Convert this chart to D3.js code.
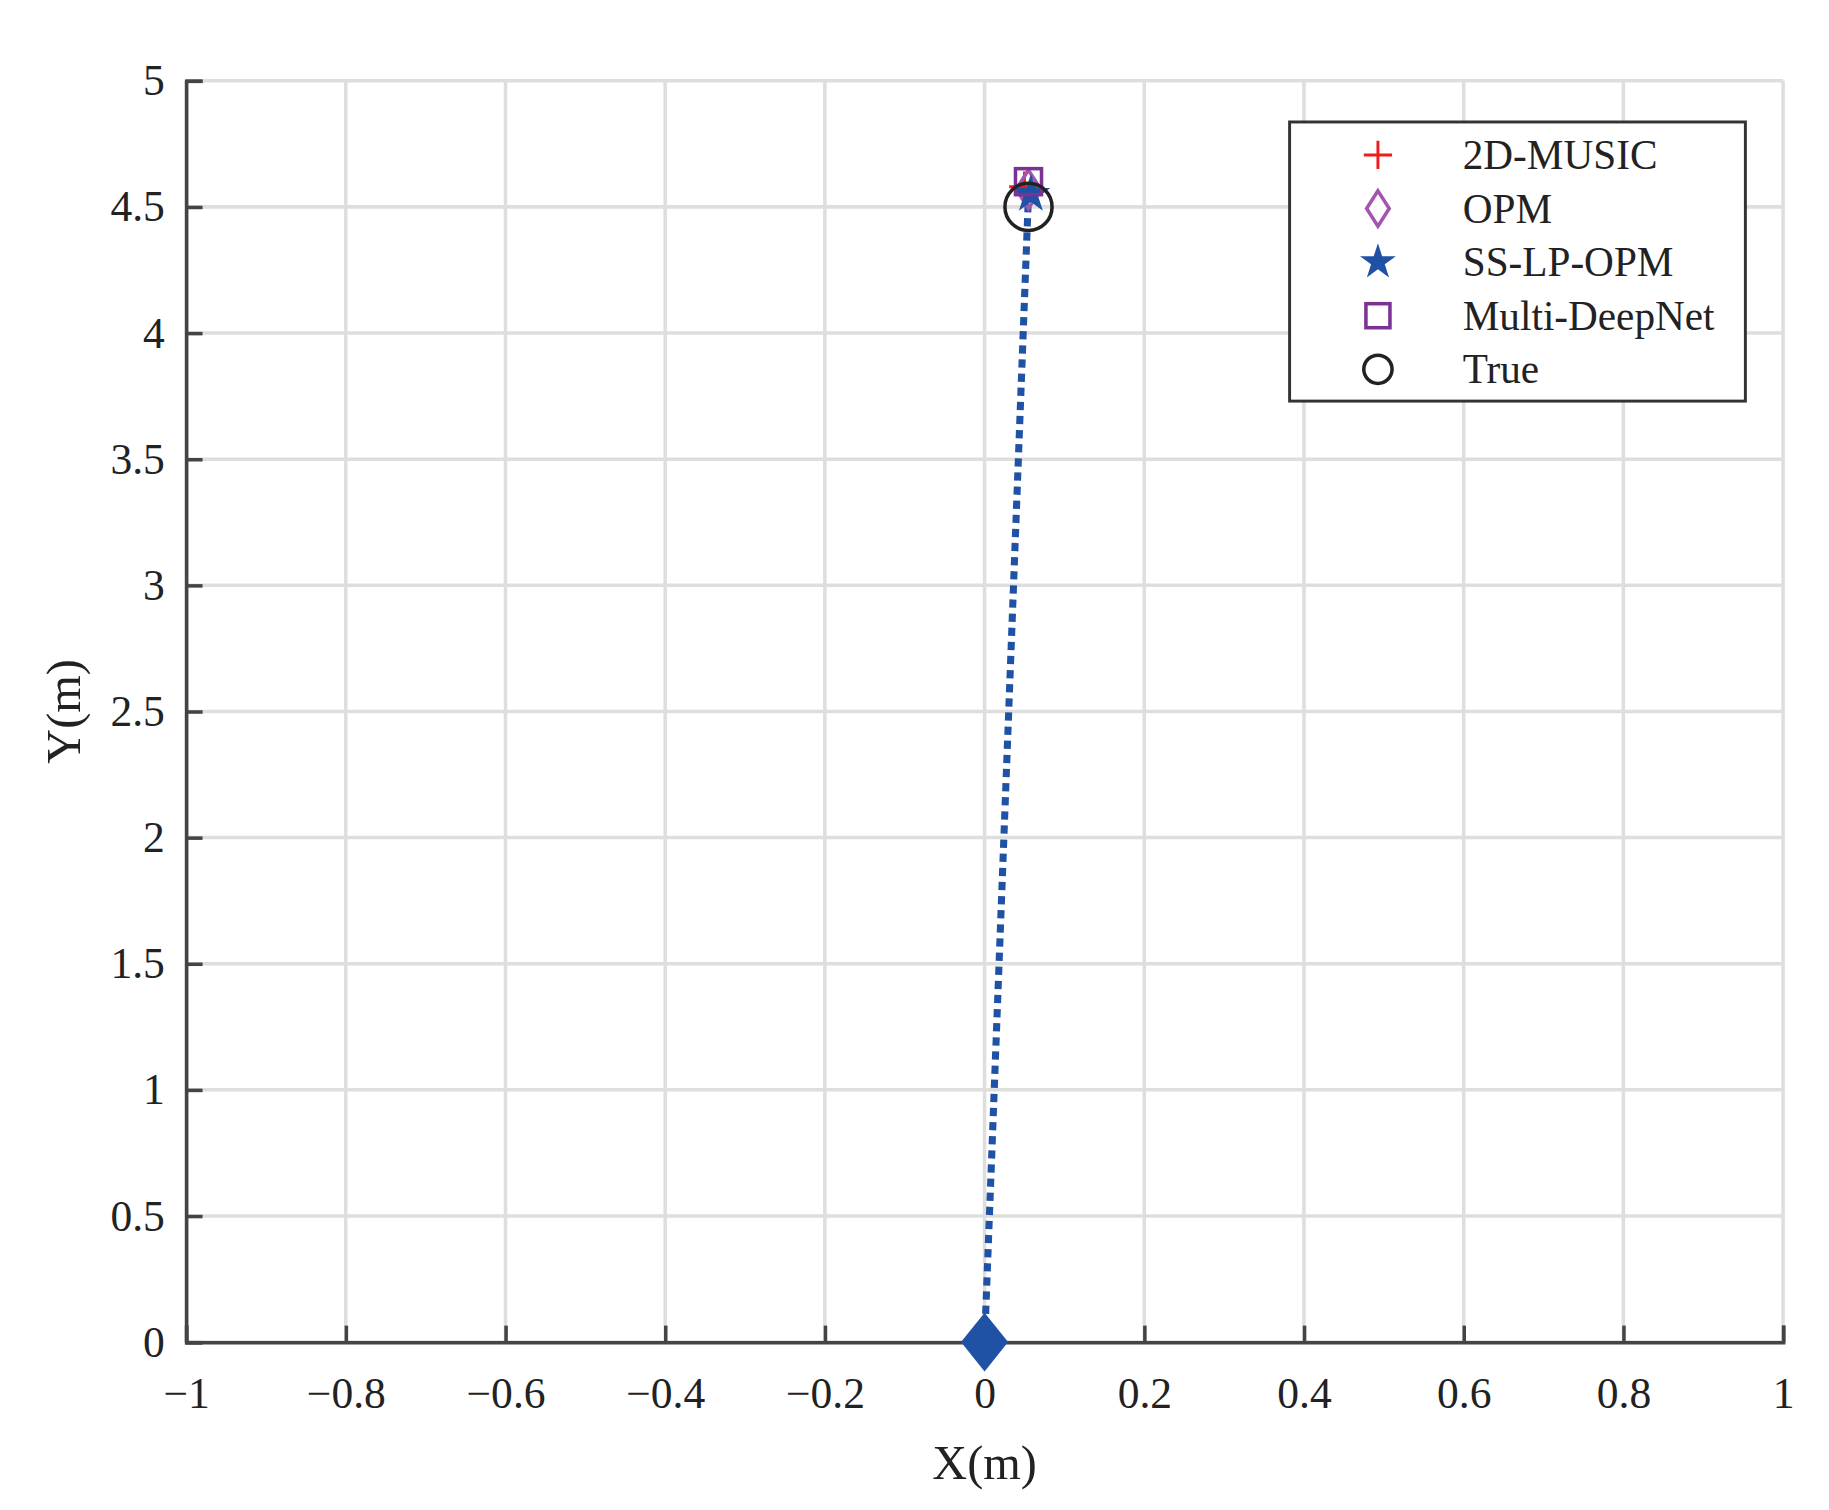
<!DOCTYPE html>
<head>
  <meta charset="utf-8">
  <script src="https://cdn.jsdelivr.net/npm/d3@7"></script>
  <style>body{margin:0;background:#fff}</style>
</head>
<body>
<script>
var xTicks = [-1, -0.8, -0.6, -0.4, -0.2, 0, 0.2, 0.4, 0.6, 0.8, 1];
var yTicks = [0, 0.5, 1, 1.5, 2, 2.5, 3, 3.5, 4, 4.5, 5];
var pathX = [0, 0.055];
var pathY = [0, 4.55];
var names = ["2D-MUSIC", "OPM", "SS-LP-OPM", "Multi-DeepNet", "True"];
var estX = [0.05, 0.055, 0.058, 0.055, 0.055];
var estY = [4.58, 4.57, 4.55, 4.6, 4.5];
var blue = "#1f52a5";

var W = 1553, H = 1281;
var svg = d3.select("body").append("svg")
  .attr("width", 1829).attr("height", 1510)
  .attr("viewBox", "0 0 " + W + " " + H)
  .style("font-family", "'Liberation Serif', serif");

var x = d3.scaleLinear().domain([-1, 1]).range([158, 1514]);
var y = d3.scaleLinear().domain([0, 5]).range([1139, 68]);

// grid
svg.append("g").selectAll("line").data(xTicks).enter().append("line")
  .attr("x1", x).attr("x2", x).attr("y1", y(0)).attr("y2", y(5))
  .attr("stroke", "#dedede").attr("stroke-width", 3);
svg.append("g").selectAll("line").data(yTicks).enter().append("line")
  .attr("y1", y).attr("y2", y).attr("x1", x(-1)).attr("x2", x(1))
  .attr("stroke", "#dedede").attr("stroke-width", 3);

var fmt = function(d){ return String(d).replace("-", "\u2212"); };
var xAxis = svg.append("g").attr("transform", "translate(0," + y(0) + ")")
  .call(d3.axisBottom(x).tickValues(xTicks).tickFormat(fmt).tickSize(-14).tickPadding(30));
var yAxis = svg.append("g").attr("transform", "translate(" + x(-1) + ",0)")
  .call(d3.axisLeft(y).tickValues(yTicks).tickFormat(fmt).tickSize(-14).tickPadding(18));
[xAxis, yAxis].forEach(function(a){
  a.select(".domain").attr("stroke", "#444").attr("stroke-width", 3);
  a.selectAll(".tick line").attr("stroke", "#444").attr("stroke-width", 3);
  a.selectAll("text").attr("font-size", 37).attr("fill", "#222")
    .style("font-family", "'Liberation Serif', serif");
});

svg.append("text").attr("x", x(0)).attr("y", 1255).attr("text-anchor", "middle")
  .attr("font-size", 41).attr("fill", "#222").text("X(m)");
svg.append("text").attr("transform", "translate(68," + y(2.5) + ") rotate(-90)")
  .attr("text-anchor", "middle").attr("font-size", 41).attr("fill", "#222").text("Y(m)");

// trajectory
svg.append("path")
  .attr("d", d3.line().x(function(d){ return x(d[0]); }).y(function(d){ return y(d[1]); })(d3.zip(pathX, pathY)))
  .attr("fill", "none").attr("stroke", blue).attr("stroke-width", 6).attr("stroke-dasharray", "7,5");
svg.append("path").attr("transform", "translate(" + x(pathX[0]) + "," + y(pathY[0]) + ")")
  .attr("d", "M0,-25L20,0L0,25L-20,0Z").attr("fill", blue);

function marker(g, i, s) {
  if (i === 0) g.append("path").attr("d", "M-" + s + ",0H" + s + "M0,-" + s + "V" + s)
    .attr("stroke", "#f01c1c").attr("stroke-width", 2.5).attr("fill", "none");
  else if (i === 1) g.append("path").attr("d", "M0,-" + (s * 1.25) + "L" + (s * 0.8) + ",0L0," + (s * 1.25) + "L-" + (s * 0.8) + ",0Z")
    .attr("stroke", "#a355b0").attr("stroke-width", 3).attr("fill", "none");
  else if (i === 2) g.append("path").attr("d", d3.symbol().type(d3.symbolStar).size(s * s * 2)())
    .attr("fill", blue);
  else if (i === 3) g.append("rect").attr("x", -s * 0.85).attr("y", -s * 0.85).attr("width", s * 1.7).attr("height", s * 1.7)
    .attr("stroke", "#7b3294").attr("stroke-width", 3).attr("fill", "none");
  else g.append("circle").attr("r", s).attr("stroke", "#222").attr("stroke-width", 3).attr("fill", "none");
}

names.forEach(function(n, i){
  var g = svg.append("g").attr("transform", "translate(" + x(estX[i]) + "," + y(estY[i]) + ")");
  marker(g, i, i === 4 ? 20 : 13);
});

// legend
var lg = svg.append("g");
lg.append("rect").attr("x", 1095).attr("y", 103).attr("width", 387).attr("height", 237)
  .attr("fill", "#fff").attr("stroke", "#333").attr("stroke-width", 2.5);
names.forEach(function(n, i){
  var yy = 131 + i * 45.5;
  var g = lg.append("g").attr("transform", "translate(1170," + yy + ")");
  marker(g, i, 12);
  lg.append("text").attr("x", 1242).attr("y", yy + 12).attr("font-size", 35).attr("fill", "#222").text(n);
});
</script>
</body>
